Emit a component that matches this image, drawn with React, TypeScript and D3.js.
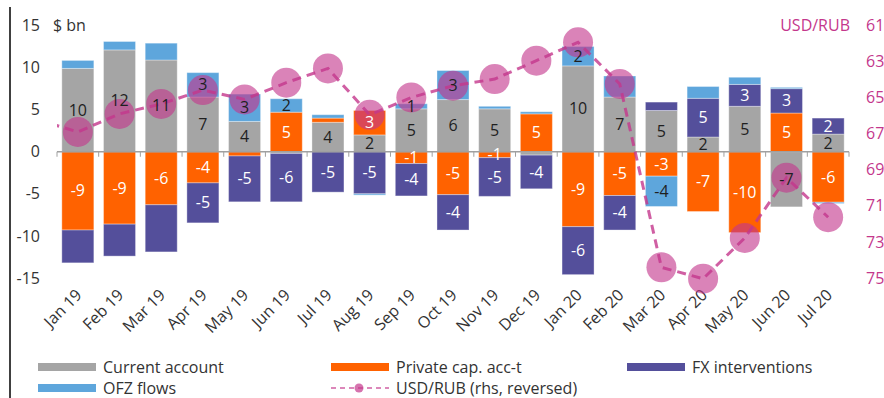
import React from "react";
import * as d3 from "d3";

const months = [
  "Jan 19", "Feb 19", "Mar 19", "Apr 19", "May 19", "Jun 19", "Jul 19", "Aug 19", "Sep 19", "Oct 19",
  "Nov 19", "Dec 19", "Jan 20", "Feb 20", "Mar 20", "Apr 20", "May 20", "Jun 20", "Jul 20",
];

const currentAccount = [9.9, 12.1, 10.9, 6.5, 3.6, -0.2, 3.5, 2.0, 5.1, 6.2, 5.1, -0.4, 10.2, 6.5, 4.9, 1.75, 5.4, -6.55, 2.1];
const privateCapital = [-9.3, -8.6, -6.3, -3.7, -0.5, 4.7, 0.5, 2.9, -1.4, -5.1, -0.7, 4.5, -8.9, -5.2, -2.9, -7.1, -9.6, 4.6, -6.0];
const fxInterventions = [-3.9, -3.8, -5.6, -4.75, -5.45, -5.75, -4.8, -5.0, -3.85, -4.2, -4.6, -4.0, -5.7, -4.1, 1.0, 4.6, 2.6, 2.9, 1.9];
const ofzFlows = [0.95, 1.0, 2.0, 2.9, 3.25, 1.6, 0.4, -0.15, 0.6, 3.45, 0.3, 0.25, 2.3, 2.5, -3.6, 1.4, 0.85, 0.15, -0.15];

const usdRub = [66.9, 65.9, 65.35, 64.58, 65.1, 64.17, 63.38, 65.95, 64.99, 64.34, 63.97, 62.95, 61.93, 64.24, 74.41, 75.04, 72.78, 69.44, 71.63];
const usdRubPrev = 66.2; // Dec 18, only the line segment into the plot is visible

const caShown = [1, 1, 1, 1, 1, 0, 1, 1, 1, 1, 1, 0, 1, 1, 1, 1, 1, 1, 1];
const pcaShown = [1, 1, 1, 1, 0, 1, 0, 1, 1, 1, 1, 1, 1, 1, 1, 1, 1, 1, 1];
const fxShown = [0, 0, 0, 1, 1, 1, 1, 1, 1, 1, 1, 1, 1, 1, 0, 1, 1, 1, 1];
const ofzShown = [0, 0, 0, 1, 1, 1, 0, 0, 1, 1, 0, 0, 1, 0, 1, 0, 0, 0, 0];

const leftTicks = [15, 10, 5, 0, -5, -10, -15];
const rightTicks = [61, 63, 65, 67, 69, 71, 73, 75];

const seriesNames = ["Current account", "Private cap. acc-t", "FX interventions", "OFZ flows"];
const lineName = "USD/RUB (rhs, reversed)";

const W = 884;
const H = 398;
const FONT = "'Open Sans', sans-serif";
const colors = ["#a5a5a5", "#ff6200", "#544f9b", "#5ea6dc"];
const labelColors = ["#1f1f1f", "#ffffff", "#ffffff", "#1f1f1f"];
const pink = "#c4378c";

export default function App() {
  const plotLeft = 57;
  const plotRight = 849;
  const plotTop = 25.5;
  const plotBottom = 278;

  const x = d3.scaleBand<string>().domain(months).range([plotLeft, plotRight]).paddingInner(0.232).paddingOuter(0.116);
  const step = x.step();
  const y = d3.scaleLinear().domain([-15, 15]).range([plotBottom, plotTop]);
  const yR = d3.scaleLinear().domain([61, 75]).range([plotTop, plotBottom]);

  const keys = ["ca", "pca", "fx", "ofz"];
  const rows = months.map((m, i) => ({
    month: m,
    ca: currentAccount[i],
    pca: privateCapital[i],
    fx: fxInterventions[i],
    ofz: ofzFlows[i],
  }));
  const stacked = d3.stack<any>().keys(keys).offset(d3.stackOffsetDiverging)(rows);
  const shown = [caShown, pcaShown, fxShown, ofzShown];

  const cx = (m: string) => (x(m) as number) + x.bandwidth() / 2;

  const linePts: [number, number][] = [
    [cx(months[0]) - step, yR(usdRubPrev)],
    ...months.map((m, i) => [cx(m), yR(usdRub[i])] as [number, number]),
  ];
  const lineGen = d3.line<[number, number]>().x((d) => d[0]).y((d) => d[1]);

  const y0 = y(0);

  return (
    <svg width={W} height={H} style={{ position: "absolute", left: 0, top: 0, background: "#fff" }} fontFamily={FONT}>
      <defs>
        <clipPath id="plotClip">
          <rect x={plotLeft} y={0} width={plotRight - plotLeft} height={H} />
        </clipPath>
      </defs>
      <rect x={0} y={0} width={W} height={H} fill="#fff" />
      <line x1={10} x2={10} y1={7} y2={H} stroke="#000" strokeWidth={1.5} />

      {/* left axis labels */}
      {leftTicks.map((t) => (
        <text key={"l" + t} x={40} y={y(t)} dy="0.35em" textAnchor="end" fontSize={16} fill="#333">
          {t}
        </text>
      ))}
      <text x={53} y={y(15)} dy="0.35em" fontSize={16} fill="#333">$ bn</text>

      {/* right axis labels */}
      {rightTicks.map((t) => (
        <text key={"r" + t} x={866} y={yR(t)} dy="0.35em" textAnchor="start" fontSize={16} fill={pink}>
          {t}
        </text>
      ))}
      <text x={850} y={yR(61)} dy="0.35em" textAnchor="end" fontSize={16} fill={pink}>USD/RUB</text>

      {/* bars */}
      {stacked.map((s, si) => (
        <g key={s.key} fill={colors[si]}>
          {s.map((d, i) => {
            const top = y(Math.max(d[0], d[1]));
            const bot = y(Math.min(d[0], d[1]));
            if (bot - top <= 0) return null;
            return (
              <rect
                key={i}
                x={x(months[i])}
                y={top}
                width={x.bandwidth()}
                height={bot - top}
                stroke="#ffffff"
                strokeOpacity={0.35}
                strokeWidth={1}
              />
            );
          })}
        </g>
      ))}

      {/* zero axis */}
      <line x1={plotLeft} x2={plotRight} y1={y0} y2={y0} stroke="#a0a0a0" strokeWidth={1.5} />
      {d3.range(months.length + 1).map((i) => (
        <line key={"t" + i} x1={plotLeft + i * step} x2={plotLeft + i * step} y1={y0} y2={y0 + 5} stroke="#a0a0a0" strokeWidth={1} />
      ))}

      {/* category labels */}
      {months.map((m) => (
        <text
          key={"c" + m}
          transform={`translate(${cx(m) + 5},${296}) rotate(-45)`}
          textAnchor="end"
          fontSize={16}
          fill="#333"
        >
          {m}
        </text>
      ))}

      {/* USD/RUB line */}
      <g clipPath="url(#plotClip)">
        <path d={lineGen(linePts) || ""} fill="none" stroke={pink} strokeOpacity={0.8} strokeWidth={3} strokeDasharray="9,6" />
      </g>
      {months.map((m, i) => (
        <circle key={"p" + m} cx={cx(m)} cy={yR(usdRub[i])} r={15} fill={pink} fillOpacity={0.62} />
      ))}

      {/* data labels */}
      {stacked.map((s, si) => (
        <g key={"lab" + s.key}>
          {s.map((d, i) => {
            if (!shown[si][i]) return null;
            const v = d.data[s.key] as number;
            const mid = (y(d[0]) + y(d[1])) / 2;
            return (
              <text key={i} x={cx(months[i])} y={mid} dy="0.35em" textAnchor="middle" fontSize={16} fill={labelColors[si]}>
                {Math.round(v)}
              </text>
            );
          })}
        </g>
      ))}

      {/* legend */}
      {[
        { x: 38, y: 367, i: 0 },
        { x: 331, y: 367, i: 1 },
        { x: 627, y: 367, i: 2 },
        { x: 38, y: 388, i: 3 },
      ].map((l) => (
        <g key={"lg" + l.i}>
          <rect x={l.x} y={l.y - 4} width={58} height={8} fill={colors[l.i]} />
          <text x={l.x + 65} y={l.y} dy="0.35em" fontSize={16} fill="#333">
            {seriesNames[l.i]}
          </text>
        </g>
      ))}
      <g>
        <line x1={331} x2={389} y1={388} y2={388} stroke={pink} strokeOpacity={0.6} strokeWidth={2} strokeDasharray="5,4" />
        <circle cx={359} cy={388} r={4.5} fill={pink} fillOpacity={0.7} />
        <text x={396} y={388} dy="0.35em" fontSize={16} fill="#333">
          {lineName}
        </text>
      </g>
    </svg>
  );
}
